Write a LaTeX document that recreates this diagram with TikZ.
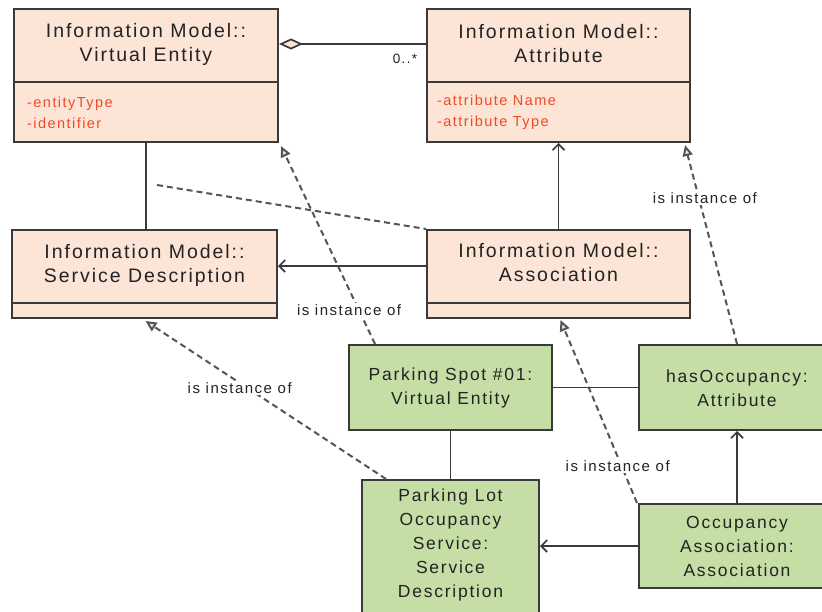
\documentclass[tikz,border=0pt]{standalone}
\usepackage{fontspec}
\usetikzlibrary{arrows.meta,calc}
\newfontfamily\umlf[LetterSpace=10]{Liberation Sans}
\definecolor{peach}{RGB}{252,228,214}
\definecolor{leaf}{RGB}{196,222,166}
\definecolor{edgec}{RGB}{58,58,58}
\definecolor{ink}{RGB}{35,35,35}
\definecolor{attrred}{RGB}{240,75,35}
\definecolor{dashc}{RGB}{85,85,85}
\begin{document}
\begin{tikzpicture}[x=1pt,y=-1pt,
  classbox/.style={draw=edgec, line width=2pt, fill=peach, inner sep=0pt},
  objbox/.style={draw=edgec, line width=2pt, fill=leaf, inner sep=0pt},
  titletext/.style={text=ink, align=center, inner sep=0pt, font=\umlf\fontsize{19.5}{24}\selectfont},
  objtext/.style={text=ink, align=center, inner sep=0pt, font=\umlf\fontsize{17.5}{24}\selectfont},
  attrs/.style={text=attrred, align=left, anchor=west, inner sep=0pt, font=\umlf\fontsize{14.5}{21}\selectfont},
  divider/.style={draw=edgec, line width=2pt},
  link/.style={draw=edgec, line width=1.7pt},
  nav/.style={link, -{Straight Barb[length=6pt,width=12pt]}},
  dashline/.style={draw=dashc, line width=2pt, dash pattern=on 6pt off 4pt},
  inst/.style={dashline, -{Triangle[length=11pt,width=10pt,fill=peach]}},
  lbl/.style={text=ink, fill=white, inner sep=1.5pt, font=\umlf\fontsize{15}{18}\selectfont},
]
\clip (0,0) rectangle (822,611);
\fill[white] (0,0) rectangle (822,611);

% class boxes
\node[classbox, minimum width=264pt, minimum height=133pt] (ve) at (146,75.5) {};
\draw[divider] (ve.west |- 0,82) -- (ve.east |- 0,82);
\node[titletext] (vet) at (146,44) {Information Model::\\Virtual Entity};
\node[attrs] (vea) at (27,112.5) {-entityType\\-identifier};

\node[classbox, minimum width=263pt, minimum height=133pt] (attr) at (558.5,75.5) {};
\draw[divider] (attr.west |- 0,82) -- (attr.east |- 0,82);
\node[titletext] (attrt) at (558.5,44) {Information Model::\\Attribute};
\node[attrs] (attra) at (437,112.5) {-attribute Name\\-attribute Type};

\node[classbox, minimum width=265pt, minimum height=88pt] (sd) at (144.5,274) {};
\draw[divider] (sd.west |- 0,303) -- (sd.east |- 0,303);
\node[titletext] (sdt) at (144.5,265) {Information Model::\\Service Description};

\node[classbox, minimum width=263pt, minimum height=88pt] (assoc) at (558.5,274) {};
\draw[divider] (assoc.west |- 0,303) -- (assoc.east |- 0,303);
\node[titletext] (assoct) at (558.5,263) {Information Model::\\Association};

% object boxes
\node[objbox, minimum width=203pt, minimum height=85pt] (ps) at (450.5,387.5) {};
\node[objtext] (pst) at (450.5,388) {Parking Spot \#01:\\Virtual Entity};

\node[objbox, minimum width=196pt, minimum height=85pt] (ho) at (737,387.5) {};
\node[objtext] (hot) at (737,388) {hasOccupancy:\\Attribute};

\node[objbox, minimum width=177pt, minimum height=160pt] (pl) at (450.5,560) {};
\node[objtext] (plt) at (450.5,545) {Parking Lot\\Occupancy\\Service:\\Service\\Description};

\node[objbox, minimum width=196pt, minimum height=84pt] (oa) at (737,546) {};
\node[objtext] (oat) at (737,546) {Occupancy\\Association:\\Association};

% connectors
\draw[link, {Diamond[length=24pt,width=11pt,fill=peach]}-] ($(ve.north east)+(0,36)$) -- ($(attr.north west)+(0,36)$)
  node[at end, anchor=north east, inner sep=0pt, xshift=-8pt, yshift=-9pt, text=ink, font=\umlf\fontsize{13.5}{15}\selectfont] {0..*};
\draw[link] (ve.south) -- (ve.south |- sd.north);
\coordinate (acs) at (157,185);
\draw[dashline] (acs) -- (assoc.north west);
\draw[nav] (assoc.north) -- (attr.south);
\draw[nav] (assoc.west |- 0,266) -- (sd.east |- 0,266);

\draw[inst] ($(ps.north west)+(27,0)$) -- ($(ve.south east)+(2,3)$)
  node[lbl, pos=0.17, xshift=-10pt] {is instance of};
\draw[inst] ($(pl.north west)+(25,0)$) -- ($(sd.south)+(1,2)$)
  node[lbl, pos=0.575, xshift=-8pt] {is instance of};
\draw[inst] ($(oa.north west)+(-1,0)$) -- ($(assoc.south)+(2,1)$)
  node[lbl, pos=0.2, xshift=-4pt] {is instance of};
\draw[inst] (ho.north) -- ($(attr.south east)+(-6,2)$)
  node[lbl, pos=0.735, xshift=6pt] {is instance of};

\draw[link] (ps.east) -- (ho.west);
\draw[link] (ps.south) -- (ps.south |- pl.north);
\draw[nav] (oa.north) -- (ho.south);
\draw[nav] (oa.west) -- (pl.east |- oa.west);
\end{tikzpicture}
\end{document}
